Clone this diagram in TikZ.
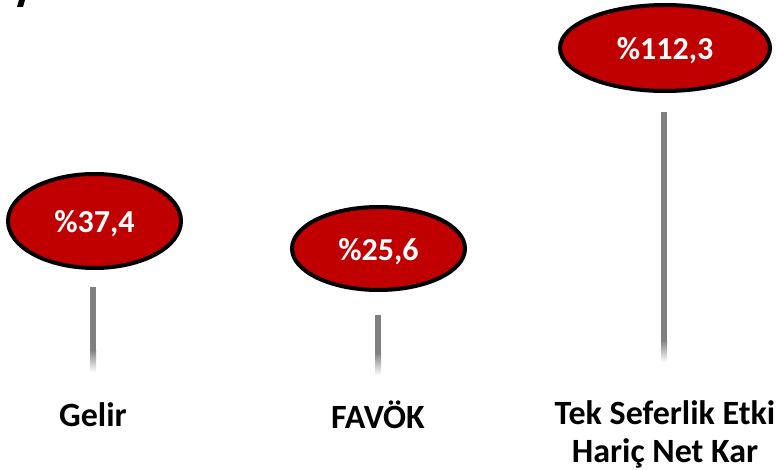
\documentclass[tikz,border=0pt]{standalone}
\usepackage{fontspec}
\setmainfont{Carlito}
\usetikzlibrary{shapes.geometric}
\definecolor{bubred}{RGB}{192,0,0}
\definecolor{bargray}{RGB}{128,128,128}
\newcommand{\bubtext}[1]{\raisebox{-3pt}[\height][\depth]{#1}}
\begin{document}
\begin{tikzpicture}[x=1pt,y=-1pt,
  bubble/.style={ellipse,draw=black,line width=4pt,fill=bubred,inner sep=0pt,
    text=white,font=\fontsize{32}{36}\selectfont\bfseries},
  lbl/.style={align=center,text=black,font=\fontsize{34}{38}\selectfont\bfseries,inner sep=0pt}]
\useasboundingbox (0,0) rectangle (778,470);
\fill[black] (17,7) -- (19,0) -- (25,0) -- (23,7) -- cycle;
\node[bubble,minimum width=173pt,minimum height=94pt] (b1) at (94.5,221) {\bubtext{\%37,4}};
\node[bubble,minimum width=173pt,minimum height=83pt] (b2) at (378.5,248.5) {\bubtext{\%25,6}};
\node[bubble,minimum width=210pt,minimum height=86pt] (b3) at (665,48) {\bubtext{\%112,3}};
% bars
\foreach \x/\t/\b in {93/287/372, 378/315/375, 664/112/362}{
  \fill[bargray] (\x-3,\t) rectangle (\x+3,\b-22);
  \shade[top color=bargray,bottom color=white] (\x-3,\b-22) rectangle (\x+3,\b);
}
\node[lbl] (l1) at (93,415) {Gelir};
\node[lbl] (l2) at (378,415) {FAVÖK};
\node[lbl] (l3) at (665,434.5) {Tek Seferlik Etki\\Hariç Net Kar};
\end{tikzpicture}
\end{document}
